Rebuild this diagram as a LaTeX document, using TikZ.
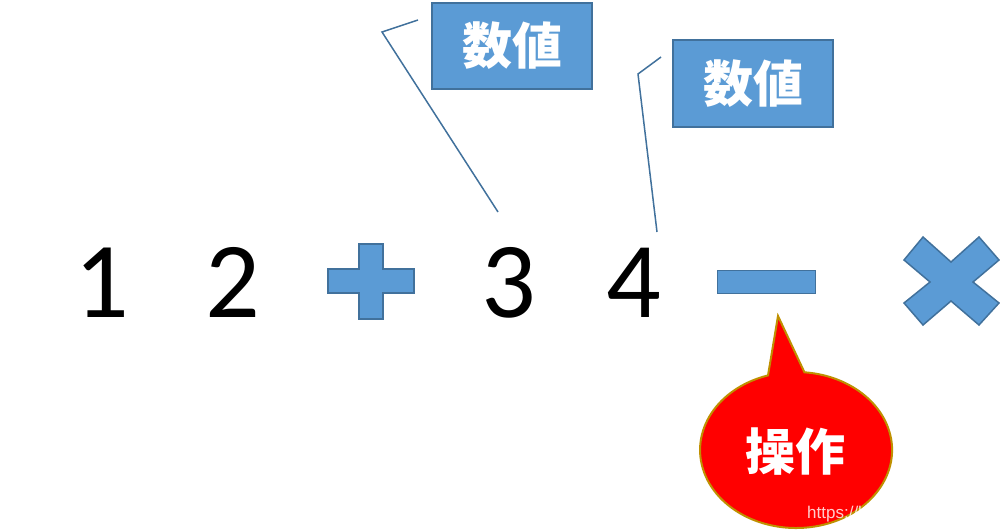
\documentclass[tikz,border=0pt]{standalone}
\usepackage{fontspec}
\newfontfamily\digitfont{Carlito}
\newfontfamily\cjk{Noto Sans CJK JP}
\newfontfamily\wmfont{Liberation Sans}
\definecolor{fillblue}{RGB}{91,155,213}
\definecolor{edgeblue}{RGB}{65,113,156}
\definecolor{balloonedge}{RGB}{191,144,0}
\begin{document}
\begin{tikzpicture}[x=1pt,y=-1pt,
  digit/.style={inner sep=0pt, font=\digitfont\fontsize{108}{108}\selectfont},
  opshape/.style={fill=fillblue, draw=edgeblue, line width=1.5pt, line join=miter},
  labelbox/.style={fill=fillblue, draw=edgeblue, line width=2pt, inner sep=0pt,
    minimum width=160pt, text=white, font=\cjk\bfseries\fontsize{50}{50}\selectfont},
  callout/.style={draw=edgeblue, line width=1.5pt},
]
\useasboundingbox (0,0) rectangle (1000,531);

% digits
\node[digit] (d1) at (101.5,282.5) {1};
\node[digit] (d2) at (232.5,282.5) {2};
\node[digit] (d3) at (508.5,283) {3};
\node[digit] (d4) at (634,282.5) {4};

% plus
\path[opshape] (328,269) -- (359,269) -- (359,244) -- (383,244) -- (383,269) -- (414,269)
  -- (414,293) -- (383,293) -- (383,319) -- (359,319) -- (359,293) -- (328,293) -- cycle;

% minus
\node[opshape, inner sep=0pt, minimum width=98pt, minimum height=23pt] (minus) at (766.5,282) {};

% times
\path[opshape] (923,237) -- (951,262) -- (979,237) -- (999,260) -- (973,282) -- (999,303)
  -- (979,325) -- (951,301) -- (923,325) -- (904,303) -- (930,282) -- (904,260) -- cycle;

% label boxes
\node[labelbox, minimum height=86pt] (b1) at (512,46) {数値};
\node[labelbox, minimum height=87pt] (b2) at (753,83.5) {数値};

% callout lines
\coordinate (c1a) at (418,20);
\coordinate (c1b) at (382,32);
\coordinate (c1c) at (498,212);
\draw[callout] (c1a) -- (c1b) -- (c1c);
\coordinate (c2a) at (661,57);
\coordinate (c2b) at (638,74);
\coordinate (c2c) at (657,232);
\draw[callout] (c2a) -- (c2b) -- (c2c);

% balloon
\coordinate (tip) at (778,316);
\coordinate (lbase) at (768,375.4);
\fill[red, draw=balloonedge, line width=2pt, line join=miter]
  (lbase) arc[start angle=107, end angle=445, x radius=96pt, y radius=78pt] -- (tip) -- cycle;
\node[inner sep=0pt, text=white, font=\cjk\bfseries\fontsize{50}{50}\selectfont] (op) at (795.5,451.5) {操作};

% watermark
\node[anchor=base west, inner sep=0pt, text=white, opacity=0.8,
  font=\wmfont\fontsize{17}{17}\selectfont] (wm) at (807,518) {https://blog.csdn.net};
\end{tikzpicture}
\end{document}
